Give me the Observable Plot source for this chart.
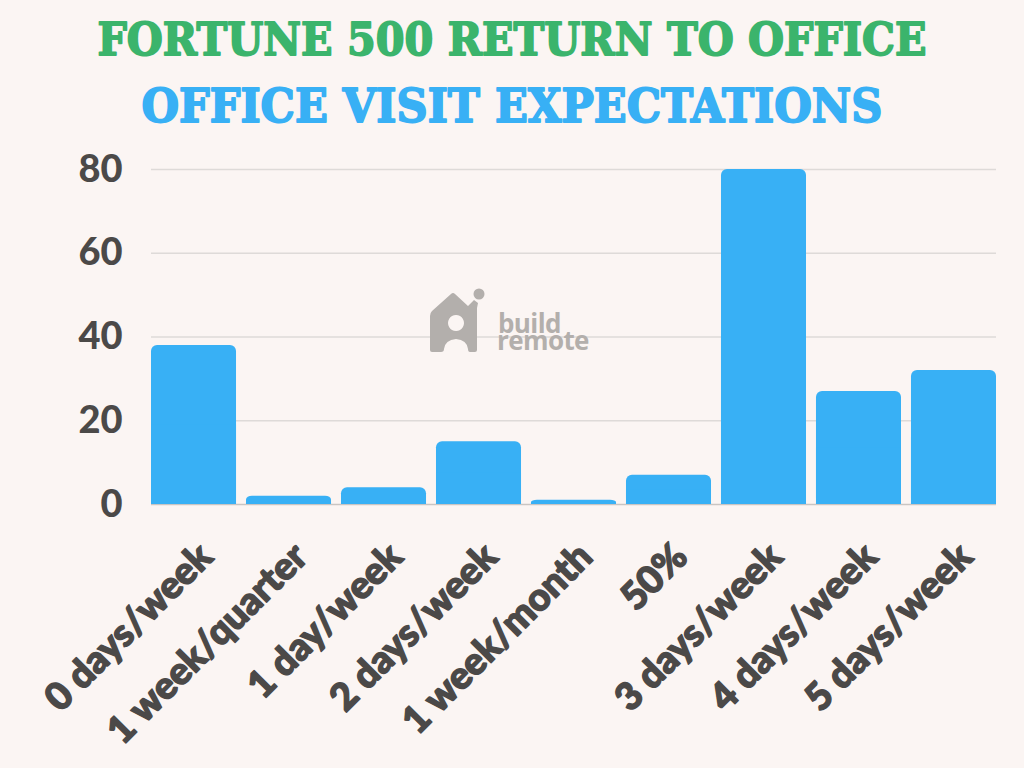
<!DOCTYPE html>
<html>
<head>
<meta charset="utf-8">
<script src="https://cdn.jsdelivr.net/npm/d3@7"></script>
<script src="https://cdn.jsdelivr.net/npm/@observablehq/plot@0.6"></script>
<style>
  html, body { margin: 0; padding: 0; background: #fbf5f3; }
  #wrap { position: relative; width: 1024px; height: 768px; background: #fbf5f3; overflow: hidden; }
  #titles { position: absolute; left: 0; top: 0; }
  #chart { position: absolute; left: 0; top: 130px; }
  #wm { position: absolute; left: 428px; top: 286px; width: 190px; height: 80px; pointer-events: none; }
</style>
</head>
<body>
<div id="wrap">
  <svg id="titles" width="1024" height="140">
    <text x="512" y="55" text-anchor="middle" textLength="829" lengthAdjust="spacingAndGlyphs"
      font-family="DejaVu Serif" font-weight="bold" font-size="45" fill="#3bb46c" stroke="#3bb46c" stroke-width="1.8" stroke-linejoin="round">FORTUNE 500 RETURN TO OFFICE</text>
    <text x="512" y="122" text-anchor="middle" textLength="741" lengthAdjust="spacingAndGlyphs"
      font-family="DejaVu Serif" font-weight="bold" font-size="46" fill="#38b0f5" stroke="#38b0f5" stroke-width="1.8" stroke-linejoin="round">OFFICE VISIT EXPECTATIONS</text>
  </svg>
  <div id="chart"></div>
  <svg id="wm" width="190" height="80" viewBox="0 0 190 80">
    <g fill="#b3afac">
      <path d="M2 30 Q2 27 4 25 L23 8 Q25 6 27 8 L40 20 L46 14 L50 17 L49 22 L49 64 Q49 66 47 66 L42 66 Q40 66 40 63 Q39 54 28 53 Q17 54 16 63 Q16 66 13 66 L4 66 Q2 66 2 64 Z M28 29 A8 8 0 1 0 28.01 29 Z" fill-rule="evenodd"/>
      <circle cx="51" cy="8" r="5.5"/>
      <text font-family="Open Sans" font-weight="700" font-size="26" letter-spacing="-0.6"><tspan x="70" y="47">build</tspan><tspan x="69" y="64">remote</tspan></text>
    </g>
  </svg>
</div>
<script>
const categories = ["0 days/week", "1 week/quarter", "1 day/week", "2 days/week", "1 week/month", "50%", "3 days/week", "4 days/week", "5 days/week"];
const values = [38, 2, 4, 15, 1, 7, 80, 27, 32];
const yTicks = [0, 20, 40, 60, 80];

const data = categories.map((c, i) => ({cat: c, val: values[i]}));
const textColor = "#4b4948";
const barColor = "#38b0f5";
const labelFont = "Lato, Roboto, sans-serif";

const chart = Plot.plot({
  width: 1024,
  height: 638,
  marginTop: 39,
  marginBottom: 264,
  marginLeft: 151,
  marginRight: 28,
  style: {background: "transparent", fontFamily: labelFont, color: textColor},
  x: {domain: categories, paddingInner: 0.105, paddingOuter: 0, round: false, axis: null},
  y: {domain: [0, 80]},
  marks: [
    Plot.gridY(yTicks.filter(t => t > 0), {stroke: "#dedad8", strokeOpacity: 1, strokeWidth: 1.5}),
    Plot.ruleY([0], {stroke: "#c9c5c3", strokeWidth: 1.5}),
    Plot.barY(data, {x: "cat", y: "val", fill: barColor, rx: 6}),
    Plot.barY(data, {x: "cat", y1: 0, y2: d => d.val / 2, fill: barColor}),
    Plot.axisY({ticks: yTicks, tickSize: 0, tickPadding: 29, fontSize: 38, fontWeight: 900, fontFamily: labelFont,
      fill: textColor, stroke: textColor, strokeWidth: 1.4, label: null}),
    Plot.text(categories, {x: d => d, frameAnchor: "bottom", rotate: -45, textAnchor: "end", lineAnchor: "middle",
      dx: 12, dy: 46, fontSize: 38, fontWeight: 900, fontFamily: labelFont, fill: textColor, stroke: textColor, strokeWidth: 1.4})
  ]
});
document.getElementById("chart").appendChild(chart);
</script>
</body>
</html>
